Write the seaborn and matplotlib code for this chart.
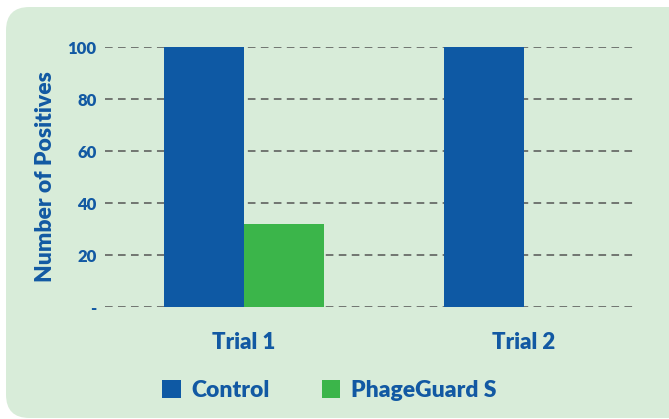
import pandas as pd
import numpy as np
import matplotlib.pyplot as plt
import seaborn as sns
from matplotlib.patches import FancyBboxPatch

# data
trials = ["Trial 1", "Trial 2"]
groups = ["Control", "PhageGuard S"]
control = [100, 100]
phageguard = [32, 0]
yticks = [0, 20, 40, 60, 80, 100]
ytick_labels = ["-", "20", "40", "60", "80", "100"]

df = pd.DataFrame({
    "Trial": trials * 2,
    "Group": [groups[0]] * 2 + [groups[1]] * 2,
    "Positives": control + phageguard,
})

blue = "#0e59a4"
green = "#3bb54a"
text_blue = "#1259a3"
panel = "#d8ecd9"

sns.set_style("white")
plt.rcParams['font.family'] = ['Lato', 'DejaVu Sans']

fig = plt.figure(figsize=(6.69, 4.19), dpi=100)
fig.patch.set_facecolor("white")

# rounded green panel
bg = FancyBboxPatch((6 / 669, 1 - 418 / 419), 700 / 669, (418 - 7) / 419,
                    boxstyle="round,pad=0,rounding_size=0.035",
                    transform=fig.transFigure, facecolor=panel,
                    edgecolor="none", zorder=-5, mutation_aspect=669 / 419)
fig.patches.append(bg)

ax = fig.add_axes([105 / 669, 1 - 307 / 419, (636 - 105) / 669, (307 - 47) / 419])
ax.set_facecolor("none")

sns.barplot(data=df, x="Trial", y="Positives", hue="Group",
            palette=[blue, green], width=0.572, saturation=1,
            linewidth=0, ax=ax, zorder=3)

ax.set_xlim(-0.496, 1.4)
ax.set_ylim(0, 100)
ax.set_yticks(yticks)
ax.set_yticklabels(ytick_labels)
for y in yticks:
    ax.axhline(y, color="#555555", lw=1.1, ls=(0, (5, 3.5)), zorder=1)

for s in ax.spines.values():
    s.set_visible(False)
ax.tick_params(axis="both", length=0)
ax.tick_params(axis="y", pad=6, labelsize=12, labelcolor=text_blue)
ax.tick_params(axis="x", pad=18, labelsize=16, labelcolor=text_blue)
for t in ax.get_yticklabels() + ax.get_xticklabels():
    t.set_fontweight("heavy")

ax.set_xlabel("")
ax.set_ylabel("Number of Positives", fontsize=16.5, fontweight="heavy",
              color=text_blue, labelpad=8)

leg = ax.legend(loc="center left", bbox_to_anchor=(0.108, -0.32), ncol=2,
                frameon=False, handlelength=0.8, handleheight=0.8,
                handletextpad=0.45, columnspacing=2.3, borderaxespad=0,
                borderpad=0, prop={"weight": "heavy", "size": 16.5})
for t in leg.get_texts():
    t.set_color(text_blue)

fig.savefig("out.png", dpi=100, facecolor=fig.get_facecolor())
